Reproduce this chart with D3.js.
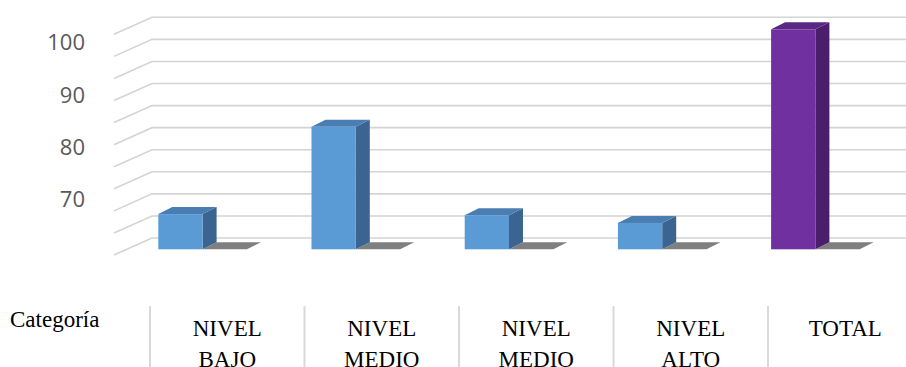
<html>
<head>
<title>Categoria 3D columns</title>
<script src="https://d3js.org/d3.v7.min.js"></script>
<style>
body { margin: 0; background: #fff; }
.grid { fill: none; stroke: #d4d4d4; stroke-width: 1.6px; }
.sep { stroke: #d9d9d9; stroke-width: 2px; }
.serif { font-family: Tinos, "Times New Roman", Times, "Liberation Serif", "Noto Serif", "DejaVu Serif", FreeSerif, serif; font-size: 23px; fill: #000; }
.ylab text { font-family: "Open Sans", sans-serif; font-size: 22px; fill: #595959; }
</style>
</head>
<body>
<div id="chart"></div>
<script>
// data
var categories = ["NIVEL BAJO", "NIVEL MEDIO", "NIVEL MEDIO", "NIVEL ALTO", "TOTAL"];
var categoryLines = [["NIVEL", "BAJO"], ["NIVEL", "MEDIO"], ["NIVEL", "MEDIO"], ["NIVEL", "ALTO"], ["TOTAL"]];
var mainValues = [66.4, 82.3, 66.2, 64.8, 100];
var secondValues = [0, 0, 0, 0, 0];
var yTickLabels = [70, 80, 90, 100];
var gridLevels = [0, 1, 2, 3, 4, 5, 6, 7, 8, 9, 10];
var tableTitle = "Categoría";

var width = 906, height = 367;
var depth = {dx: 14, dy: -7};      // bar depth
var wall = {dx: 38, dy: -17};      // side wall depth

var svg = d3.select("#chart").append("svg")
    .attr("width", width)
    .attr("height", height);

var idx = d3.range(categories.length);

// scales
var yBar = d3.scaleLinear().domain([60, 100]).range([249.3, 29.3]).clamp(true);
var yLab = d3.scaleLinear().domain([70, 100]).range([199.5, 42.7]);
var yGrid = d3.scaleLinear().domain([0, 10]).range([238, 17.3]);

var x0 = d3.scaleBand().domain(idx).range([126, 892]).paddingInner(0.4217).paddingOuter(0.2108);
var x1 = d3.scaleBand().domain(["a", "b"]).range([0, x0.bandwidth()]);
var xTable = d3.scaleBand().domain(idx).range([150, 922.5]);

// gridlines with the slanted left wall
svg.append("g").selectAll("path")
  .data(gridLevels)
  .enter().append("path")
    .attr("class", "grid")
    .attr("d", function(d) {
      var yb = yGrid(d);
      var p = d3.path();
      p.moveTo(152 - wall.dx, yb - wall.dy);
      p.lineTo(152, yb);
      p.lineTo(width, yb);
      return p.toString();
    });

// y labels
var ax = svg.append("g")
    .attr("class", "ylab")
    .attr("transform", "translate(85,0)")
    .call(d3.axisLeft(yLab).tickValues(yTickLabels).tickSize(0).tickPadding(0));
ax.select(".domain").remove();
ax.attr("font-family", null).attr("font-size", null);

function face(points) {
  var p = d3.path();
  p.moveTo(points[0][0], points[0][1]);
  for (var i = 1; i < points.length; i++) p.lineTo(points[i][0], points[i][1]);
  p.closePath();
  return p.toString();
}

function drawBar(g, x, w, v, cols) {
  var top = yBar(v), bot = yBar(60);
  // right side
  g.append("path")
    .attr("d", face([[x + w, top], [x + w + depth.dx, top + depth.dy], [x + w + depth.dx, bot + depth.dy], [x + w, bot]]))
    .attr("fill", cols[2]);
  // top
  g.append("path")
    .attr("d", face([[x, top], [x + depth.dx, top + depth.dy], [x + w + depth.dx, top + depth.dy], [x + w, top]]))
    .attr("fill", cols[1]);
  // front
  if (bot - top > 0.5) {
    g.append("rect")
      .attr("x", x).attr("y", top)
      .attr("width", w).attr("height", bot - top)
      .attr("fill", cols[0]);
  }
}

var blue = ["#5b9bd5", "#4a7db1", "#3b6590"];
var purple = ["#7030a0", "#5a2784", "#4a1e6a"];
var gray = ["#7f7f7f", "#7f7f7f", "#6b6b6b"];

var bars = svg.append("g");
idx.forEach(function(i) {
  var g = bars.append("g");
  var bx = x0(i);
  var w = x1.bandwidth();
  drawBar(g, bx + x1("b"), w, secondValues[i], gray);
  drawBar(g, bx + x1("a"), w, mainValues[i], i === categories.length - 1 ? purple : blue);
});

// category table below
svg.append("text")
    .attr("class", "serif")
    .attr("x", 10).attr("y", 327)
    .text(tableTitle);

svg.append("g").selectAll("line")
  .data(idx)
  .enter().append("line")
    .attr("class", "sep")
    .attr("x1", function(i) { return xTable(i); })
    .attr("x2", function(i) { return xTable(i); })
    .attr("y1", 306).attr("y2", height);

var lab = svg.append("g").selectAll("text")
  .data(idx)
  .enter().append("text")
    .attr("class", "serif")
    .attr("text-anchor", "middle");
lab.each(function(i) {
  var t = d3.select(this);
  categoryLines[i].forEach(function(line, k) {
    t.append("tspan")
      .attr("x", xTable(i) + xTable.bandwidth() / 2)
      .attr("y", 336 + k * 31)
      .text(line);
  });
});
</script>
</body>
</html>
